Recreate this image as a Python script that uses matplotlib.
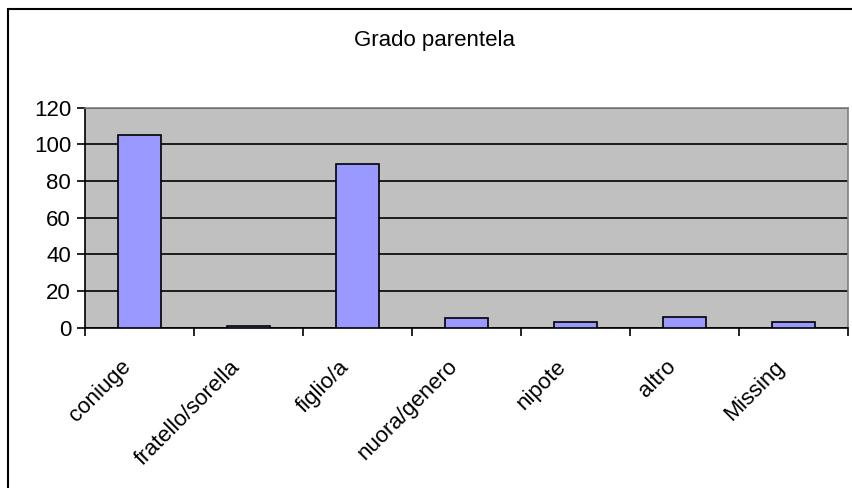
import matplotlib
matplotlib.use('Agg')
import matplotlib.pyplot as plt
import matplotlib.transforms as mtransforms
from matplotlib.patches import Rectangle
import numpy as np

plt.rcParams['font.family'] = ['Liberation Sans', 'DejaVu Sans']

# dati
categorie = ['coniuge', 'fratello/sorella', 'figlio/a', 'nuora/genero',
             'nipote', 'altro', 'Missing']
valori = [105, 1, 89, 5, 3, 6, 3]
y_ticks = [0, 20, 40, 60, 80, 100, 120]
titolo = 'Grado parentela'

fig = plt.figure(figsize=(8.53, 4.88), dpi=100)
ax = fig.add_axes([85 / 853, 1 - 327.5 / 488, (848 - 85) / 853, 220 / 488])

# cornice esterna stile Excel (il grafico originale e' tagliato a destra e in basso)
fig.patches.append(Rectangle((8 / 853, -0.1), 1.2, 1 - 9 / 488 + 0.1,
                             transform=fig.transFigure, fill=False,
                             edgecolor='black', linewidth=1.5))

ax.set_facecolor('#c0c0c0')
x = np.arange(len(categorie))
ax.bar(x, valori, width=0.4, color='#9999ff', edgecolor='black',
       linewidth=1.2, zorder=3)

ax.set_xlim(-0.5, len(categorie) - 0.5)
ax.set_ylim(0, 120)
ax.set_yticks(y_ticks)
ax.yaxis.grid(True, color='black', linewidth=1.2, zorder=1)
ax.set_axisbelow(True)

# tacche tra le categorie, etichette al centro
ax.set_xticks(np.arange(len(categorie) + 1) - 0.5)
ax.set_xticklabels([])
ax.set_xticks(x, minor=True)
ax.set_xticklabels(categorie, minor=True, rotation=45, ha='right',
                   va='center', rotation_mode='anchor', fontsize=16)
ax.tick_params(axis='x', which='minor', length=0, pad=26)
ax.tick_params(axis='x', which='major', length=6, width=1.2, direction='out')
ax.tick_params(axis='y', length=6, width=1.2, direction='out', labelsize=16, pad=4)

sposta = mtransforms.ScaledTranslation(-12 / 100, 0, fig.dpi_scale_trans)
for lab in ax.get_xticklabels(minor=True):
    lab.set_transform(lab.get_transform() + sposta)

for s in ['left', 'bottom']:
    ax.spines[s].set_color('black')
    ax.spines[s].set_linewidth(1.2)
for s in ['top', 'right']:
    ax.spines[s].set_color('#808080')
    ax.spines[s].set_linewidth(1.2)

fig.text(435 / 853, 1 - 46 / 488, titolo, ha='center', va='baseline', fontsize=16)

fig.savefig('out.png', dpi=100)
